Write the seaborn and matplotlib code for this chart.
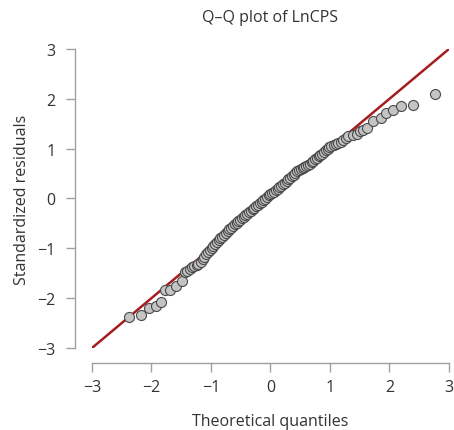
import pandas as pd
import seaborn as sns
import matplotlib.pyplot as plt

# points
theoretical = [-2.37, -2.18, -2.04, -1.92, -1.84, -1.77, -1.69, -1.59, -1.49, -1.43,
               -1.40, -1.36, -1.32, -1.28, -1.24, -1.21, -1.17, -1.14, -1.11, -1.08,
               -1.05, -1.02, -0.99, -0.96, -0.93, -0.90, -0.87, -0.84, -0.81, -0.78,
               -0.75, -0.72, -0.69, -0.66, -0.63, -0.60, -0.57, -0.54, -0.51, -0.48,
               -0.45, -0.42, -0.39, -0.36, -0.33, -0.30, -0.27, -0.24, -0.21, -0.18,
               -0.15, -0.12, -0.09, -0.06, -0.03, 0.00, 0.03, 0.06, 0.09, 0.12,
               0.15, 0.18, 0.21, 0.24, 0.27, 0.30, 0.33, 0.36, 0.39, 0.42,
               0.45, 0.48, 0.51, 0.54, 0.57, 0.60, 0.63, 0.66, 0.69, 0.72,
               0.75, 0.78, 0.81, 0.84, 0.87, 0.90, 0.93, 0.96, 0.99, 1.02,
               1.06, 1.10, 1.14, 1.18, 1.22, 1.27, 1.31, 1.38, 1.45, 1.50,
               1.56, 1.62, 1.73, 1.85, 1.95, 2.06, 2.20, 2.39, 2.76]
residuals = [-2.37, -2.34, -2.19, -2.16, -2.07, -1.84, -1.84, -1.76, -1.65, -1.48,
             -1.45, -1.42, -1.38, -1.36, -1.33, -1.31, -1.27, -1.22, -1.17, -1.12,
             -1.08, -1.03, -0.99, -0.95, -0.91, -0.88, -0.84, -0.80, -0.77, -0.73,
             -0.69, -0.66, -0.62, -0.59, -0.55, -0.52, -0.49, -0.46, -0.43, -0.40,
             -0.37, -0.34, -0.31, -0.28, -0.25, -0.22, -0.19, -0.16, -0.13, -0.10,
             -0.07, -0.04, -0.01, 0.03, 0.06, 0.09, 0.11, 0.14, 0.17, 0.20,
             0.23, 0.26, 0.29, 0.32, 0.36, 0.39, 0.42, 0.45, 0.48, 0.51,
             0.55, 0.58, 0.60, 0.62, 0.64, 0.66, 0.68, 0.70, 0.73, 0.76,
             0.79, 0.82, 0.85, 0.88, 0.90, 0.93, 0.97, 1.00, 1.03, 1.05,
             1.07, 1.09, 1.11, 1.13, 1.17, 1.22, 1.25, 1.27, 1.29, 1.36,
             1.38, 1.41, 1.55, 1.62, 1.72, 1.78, 1.86, 1.88, 2.09]
ref_line = [-3, 3]
ticks = [-3, -2, -1, 0, 1, 2, 3]

df = pd.DataFrame({'theoretical': theoretical, 'residuals': residuals})

sns.set_style('white')
plt.rcParams['font.family'] = ['Open Sans', 'DejaVu Sans']
plt.rcParams['axes.unicode_minus'] = True
text_color = '#333333'
axis_color = '#a0a0a0'

fig = plt.figure(figsize=(4.54, 4.31), dpi=100)
ax = fig.add_axes([0.2026, 0.1903, 0.7863, 0.6937])

sns.lineplot(x=ref_line, y=ref_line, color='#a51d1d', linewidth=1.8, ax=ax)
sns.scatterplot(data=df, x='theoretical', y='residuals', s=52, color='#c4c4c4',
                edgecolor='#4a4a4a', linewidth=0.8, ax=ax, zorder=3)

ax.set_xlim(-3, 3)
ax.set_ylim(-3, 3)
ax.set_xticks(ticks)
ax.set_yticks(ticks)

for side in ['top', 'right']:
    ax.spines[side].set_visible(False)
ax.spines['left'].set_position(('outward', 12))
ax.spines['bottom'].set_position(('outward', 11))
ax.spines['left'].set_bounds(-3, 3)
ax.spines['bottom'].set_bounds(-3, 3)
for side in ['left', 'bottom']:
    ax.spines[side].set_color(axis_color)
    ax.spines[side].set_linewidth(1)

ax.tick_params(axis='both', direction='out', length=6.5, width=1, color=axis_color,
               labelsize=11.5, labelcolor=text_color, bottom=True, left=True)
ax.tick_params(axis='y', pad=8)
ax.tick_params(axis='x', pad=5)

ax.set_xlabel('Theoretical quantiles', fontsize=11.5, color=text_color, labelpad=13)
ax.set_ylabel('Standardized residuals', fontsize=11.5, color=text_color, labelpad=5)
ax.set_title('Q–Q plot of LnCPS', fontsize=11.5, color=text_color, pad=20)

plt.savefig('out.png', dpi=100)
